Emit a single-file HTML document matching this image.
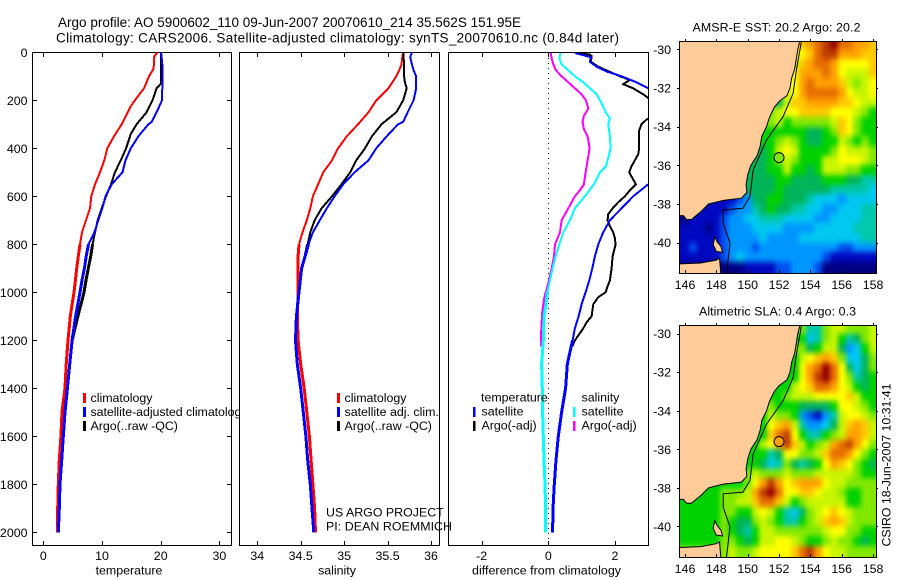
<!DOCTYPE html>
<html>
<head>
<meta charset="utf-8">
<title>Argo profile</title>
<style>
html,body{margin:0;padding:0;background:#fff;}
svg{display:block;font-family:"Liberation Sans",sans-serif;font-size:12.4px;fill:#000;}
.frame{fill:#fff;stroke:#000;stroke-width:1;shape-rendering:crispEdges;}
.tick{stroke:#000;stroke-width:1;shape-rendering:crispEdges;}
</style>
</head>
<body>
<svg id="chart" xmlns="http://www.w3.org/2000/svg" width="900" height="580" viewBox="0 0 900 580">
  <defs>
    <clipPath id="clip-p3"><rect x="449" y="53" width="199" height="492"/></clipPath>
    <clipPath id="clip-leg"><rect x="80" y="380" width="160" height="60"/></clipPath>
    <clipPath id="clip-m1"><rect x="680" y="42" width="196" height="231"/></clipPath>
    <clipPath id="clip-m2"><rect x="680" y="326" width="196" height="231"/></clipPath>
    <filter id="cell-smooth" filterUnits="userSpaceOnUse" x="640" y="0" width="260" height="580" color-interpolation-filters="sRGB">
      <feGaussianBlur stdDeviation="2.4 3"/>
    </filter>
  </defs>
  <text x="58" y="27" font-size="13.5" textLength="463" lengthAdjust="spacing">Argo profile: AO 5900602_110 09-Jun-2007 20070610_214 35.562S 151.95E</text>
  <text x="56" y="42.5" font-size="13.5" textLength="563" lengthAdjust="spacing">Climatology: CARS2006. Satellite-adjusted climatology: synTS_20070610.nc (0.84d later)</text>

  <rect class="frame" x="32.5" y="52.5" width="199" height="493"/>
  <rect class="frame" x="239.5" y="52.5" width="200" height="493"/>
  <rect class="frame" x="448.5" y="52.5" width="200" height="493"/>

  <g id="axes"></g>
  <g id="lines-temp"></g>
  <g id="lines-sal"></g>
  <line x1="548.5" y1="53" x2="548.5" y2="545" stroke="#000" stroke-width="1" stroke-dasharray="1 4" shape-rendering="crispEdges"/>
  <g id="lines-diff" clip-path="url(#clip-p3)"></g>

  <text x="129" y="574.5" text-anchor="middle">temperature</text>
  <text x="337" y="574.5" text-anchor="middle">salinity</text>
  <text x="546.5" y="574.5" text-anchor="middle" textLength="149" lengthAdjust="spacing">difference from climatology</text>

  <g clip-path="url(#clip-leg)">
    <rect x="83" y="393" width="3" height="10" fill="#f00"/>
    <rect x="83" y="407" width="3" height="10" fill="#00f"/>
    <rect x="83" y="421" width="3" height="10" fill="#000"/>
    <text x="90.5" y="402">climatology</text>
    <text x="90.5" y="416" textLength="157" lengthAdjust="spacing">satellite-adjusted climatology</text>
    <text x="90.5" y="430">Argo(..raw -QC)</text>
  </g>
  <g>
    <rect x="337" y="393" width="3" height="10" fill="#f00"/>
    <rect x="337" y="407" width="3" height="10" fill="#00f"/>
    <rect x="337" y="421" width="3" height="10" fill="#000"/>
    <text x="344.5" y="402">climatology</text>
    <text x="344.5" y="416">satellite adj. clim.</text>
    <text x="344.5" y="430">Argo(..raw -QC)</text>
  </g>
  <text x="326" y="516.5">US ARGO PROJECT</text>
  <text x="326" y="530.5" textLength="126" lengthAdjust="spacing">PI: DEAN ROEMMICH</text>
  <g>
    <text x="481" y="401.5">temperature</text>
    <text x="581.5" y="401.5">salinity</text>
    <rect x="473" y="407" width="2.5" height="10" fill="#00f"/>
    <rect x="473" y="421" width="2.5" height="10" fill="#000"/>
    <rect x="573" y="407" width="2.5" height="10" fill="#0ff"/>
    <rect x="573" y="421" width="2.5" height="10" fill="#f0f"/>
    <text x="481.5" y="415.5">satellite</text>
    <text x="481.5" y="429.5">Argo(-adj)</text>
    <text x="581.5" y="415.5">satellite</text>
    <text x="581.5" y="429.5">Argo(-adj)</text>
  </g>

  <text x="692.5" y="31.5" textLength="168" lengthAdjust="spacing">AMSR-E SST: 20.2 Argo: 20.2</text>
  <g id="map-sst"></g>
  <text x="699" y="315.5" textLength="157" lengthAdjust="spacing">Altimetric SLA: 0.4 Argo: 0.3</text>
  <g id="map-sla"></g>
  <text transform="translate(890.5,546.5) rotate(-90)" textLength="163" lengthAdjust="spacing">CSIRO 18-Jun-2007 10:31:41</text>
</svg>
<script>
// ---- profile data ----
const pressureTicks = [0,200,400,600,800,1000,1200,1400,1600,1800,2000];
const tempTicks = [0,10,20,30];
const salTicks = [34,34.5,35,35.5,36];
const salTickLabels = ['34','34.5','35','35.5','36'];
const diffTicks = [-2,0,2];

const tempClimDepth = [0,20,50,70,100,150,200,225,300,350,400,450,500,550,600,650,700,750,800,850,900,950,1000,1100,1200,1300,1400,1500,1600,1700,1800,1900,2000];
const tempClim = [19.42,18.86,18.86,18.74,18.0,17.16,15.6,14.9,13.35,12.04,10.9,10.4,9.66,8.8,8.18,7.96,7.27,6.6,6.25,5.96,5.69,5.46,5.23,4.6,4.2,3.9,3.7,3.19,3.0,2.73,2.56,2.45,2.4];
const tempArgoDepth = [0,130,150,200,250,300,340,400,450,500,550,600,650,700,750,800,850,900,950,1000,1100,1200,1300,1400,1500,1600,1700,1800,1900,2000];
const tempArgo = [20.05,20.05,19.3,18.6,17.6,15.9,14.9,14.1,13.2,12.2,11.55,10.68,9.95,9.26,8.8,8.4,8.07,7.67,7.27,6.93,5.9,4.9,4.5,4.1,3.7,3.4,3.13,2.85,2.73,2.56];
const tempSatDepth = [0,20,50,100,150,200,210,250,290,300,350,400,450,500,550,600,650,700,750,800,850,900,950,1000,1100,1200,1300,1400,1500,1600,1700,1800,1900,2000];
const tempSat = [20.05,20.16,20.27,20.27,20.27,20.2,20.05,19.3,18.46,17.9,16.2,14.9,14.0,13.5,11.65,10.6,10.05,9.37,8.7,7.7,7.3,7.0,6.6,6.25,5.5,4.9,4.5,4.1,3.7,3.4,3.13,2.85,2.73,2.56];

const salClimDepth = [0,20,50,70,100,150,200,250,300,350,400,450,500,550,600,650,700,750,800,850,900,1000,1100,1200,1300,1400,1500,1600,1700,1800,1900,2000];
const salClim = [35.68,35.67,35.66,35.64,35.6,35.51,35.37,35.28,35.16,35.03,34.93,34.86,34.76,34.70,34.64,34.61,34.57,34.52,34.48,34.47,34.47,34.47,34.46,34.47,34.5,34.54,34.57,34.6,34.62,34.64,34.66,34.67];
const salArgoDepth = [0,50,100,125,150,200,250,300,350,400,450,500,550,600,650,700,750,800,850,900,1000,1100,1200,1300,1400,1500,1600,1700,1800,1900,2000];
const salArgo = [35.68,35.69,35.69,35.70,35.72,35.68,35.60,35.43,35.32,35.24,35.14,35.07,34.97,34.86,34.74,34.66,34.61,34.58,34.55,34.51,34.48,34.45,34.44,34.46,34.50,34.53,34.56,34.58,34.61,34.63,34.65];
const salSatDepth = [0,20,50,75,100,150,200,250,290,300,350,400,450,500,550,600,650,700,750,800,850,900,1000,1100,1200,1300,1400,1500,1600,1700,1800,1900,2000];
const salSat = [35.78,35.76,35.78,35.8,35.83,35.83,35.8,35.73,35.68,35.62,35.49,35.37,35.28,35.12,34.99,34.89,34.8,34.72,34.64,34.59,34.55,34.51,34.48,34.45,34.44,34.46,34.50,34.53,34.56,34.58,34.61,34.63,34.65];

const diffTempArgoDepth = [0,10,15,40,60,100,115,133,150,175,190,200,250,280,300,325,350,400,425,475,500,525,550,575,600,625,650,675,700,725,750,775,800,850,900,950,975,1000,1020,1050,1100,1125,1150,1200,1225];
const diffTempArgo = [0.85,1.25,1.3,1.28,1.5,2.15,2.45,2.25,2.55,2.85,3.0,3.2,3.5,2.95,2.8,2.73,2.72,2.73,2.7,2.5,2.43,2.53,2.63,2.45,2.3,2.1,1.93,1.8,1.78,1.85,1.95,2.0,2.02,1.93,1.9,1.85,1.78,1.72,1.5,1.35,1.3,1.15,1.05,0.8,0.72];
const diffTempSatDepth = [0,5,20,40,60,80,100,125,150,200,300,400,500,550,600,650,700,750,800,850,900,950,1000,1050,1100,1150,1200,1250,1300,1400,1500,1600,1700,1800,1900,2000];
const diffTempSat = [0.8,0.85,1.27,1.25,1.45,1.75,2.2,2.65,3.0,4.6,4.55,4.0,3.6,3.0,2.55,2.2,1.85,1.65,1.5,1.4,1.32,1.23,1.12,1.0,0.91,0.8,0.73,0.65,0.57,0.52,0.4,0.3,0.23,0.18,0.14,0.13];
const diffSalArgoDepth = [0,25,50,75,100,125,150,175,200,235,265,290,320,350,400,450,500,550,575,600,650,700,750,800,850,900,950,1000,1033,1089,1171,1225];
const diffSalArgo = [0.07,0.10,0.15,0.23,0.40,0.6,0.8,1.0,1.13,1.2,1.07,1.03,1.07,1.18,1.24,1.18,1.12,1.07,0.95,0.80,0.6,0.40,0.35,0.2,0.17,0.1,0.02,-0.07,-0.12,-0.17,-0.2,-0.21];
const diffSalSatDepth = [0,25,50,75,100,125,150,175,200,225,250,275,300,350,400,450,475,500,550,600,650,700,750,800,850,900,950,1000,1050,1100,1200,1300,1400,1500,1600,1700,1800,1900,2000];
const diffSalSat = [0.37,0.33,0.4,0.6,0.8,1.05,1.25,1.45,1.55,1.65,1.72,1.85,1.8,1.85,1.87,1.78,1.73,1.55,1.37,1.1,0.8,0.65,0.45,0.33,0.22,0.13,0.05,-0.03,-0.07,-0.13,-0.15,-0.2,-0.18,-0.17,-0.15,-0.13,-0.1,-0.08,-0.09];

// ---- map data: colour level per half-degree cell, null where land ----
const _ = null;
const mapLons = [146,146.5,147,147.5,148,148.5,149,149.5,150,150.5,151,151.5,152,152.5,153,153.5,154,154.5,155,155.5,156,156.5,157,157.5,158];
const mapLats = [-29.75,-30.25,-30.75,-31.25,-31.75,-32.25,-32.75,-33.25,-33.75,-34.25,-34.75,-35.25,-35.75,-36.25,-36.75,-37.25,-37.75,-38.25,-38.75,-39.25,-39.75,-40.25,-40.75,-41.25];
const sstLevels = [
[_,_,_,_,_,_,_,_,_,_,_,_,_,_,_,11,12,13,14,15,13,13,12,12,11],
[_,_,_,_,_,_,_,_,_,_,_,_,_,_,_,10,11,13,14,14,12,12,12,11,11],
[_,_,_,_,_,_,_,_,_,_,_,_,_,_,9,11,12,13,13,12,10,10,10,10,11],
[_,_,_,_,_,_,_,_,_,_,_,_,_,_,10,12,12,12,13,12,10,9,9,9,11],
[_,_,_,_,_,_,_,_,_,_,_,_,_,_,10,12,13,12,12,12,11,9,8,9,10],
[_,_,_,_,_,_,_,_,_,_,_,_,_,9,10,12,13,13,13,13,12,10,9,9,10],
[_,_,_,_,_,_,_,_,_,_,_,_,6,9,11,11,12,12,12,12,11,11,10,9,9],
[_,_,_,_,_,_,_,_,_,_,_,8,9,10,10,11,11,11,11,10,10,10,9,8,7],
[_,_,_,_,_,_,_,_,_,_,_,8,9,7,8,8,8,8,8,9,11,10,8,7,7],
[_,_,_,_,_,_,_,_,_,_,7,7,7,7,7,7,6,6,7,8,11,10,8,7,7],
[_,_,_,_,_,_,_,_,_,_,7,7,8,9,8,7,6,6,7,7,9,8,7,8,7],
[_,_,_,_,_,_,_,_,_,_,6,7,9,10,9,7,7,7,7,8,10,9,9,9,8],
[_,_,_,_,_,_,_,_,_,6,6,7,8,9,8,7,7,7,9,9,10,10,10,9,8],
[_,_,_,_,_,_,_,_,_,6,6,7,7,9,7,7,6,7,9,9,9,8,8,7,7],
[_,_,_,_,_,_,_,_,6,6,6,6,7,7,6,6,6,6,7,7,7,6,6,5,5],
[_,_,_,_,_,_,_,_,6,6,6,6,7,6,6,6,6,6,6,5,5,5,5,5,4],
[_,_,_,_,_,1,1,2,3,6,6,7,7,6,6,6,5,4,4,4,3,4,4,4,4],
[_,_,1,1,1,1,2,3,3,5,6,7,6,6,5,5,4,4,3,3,4,4,4,5,5],
[0,1,1,1,1,2,3,3,4,4,5,5,5,4,4,4,4,3,3,4,4,4,4,5,5],
[1,1,1,0,1,2,3,3,3,4,4,4,4,3,3,3,3,4,4,4,4,4,5,5,5],
[1,1,1,1,1,2,3,3,3,3,4,3,3,3,3,4,4,4,4,4,4,4,4,5,5],
[1,2,1,1,1,2,3,3,3,2,3,3,3,3,3,3,3,3,3,3,2,2,3,3,3],
[1,1,1,1,1,2,3,4,3,3,3,3,3,3,3,3,3,3,2,1,1,1,1,1,1],
[_,_,_,_,_,0,0,0,1,1,1,1,2,2,3,3,3,2,0,0,0,0,0,0,0]
];
const slaLevels = [
[_,_,_,_,_,_,_,_,_,_,_,_,_,_,_,8,5,5,8,9,9,8,8,8,9],
[_,_,_,_,_,_,_,_,_,_,_,_,_,_,_,7,4,5,8,9,7,5,6,8,9],
[_,_,_,_,_,_,_,_,_,_,_,_,_,_,_,8,6,7,9,9,6,3,4,7,9],
[_,_,_,_,_,_,_,_,_,_,_,_,_,_,7,9,10,11,12,11,8,4,4,6,8],
[_,_,_,_,_,_,_,_,_,_,_,_,_,_,7,10,12,13,15,13,10,6,4,6,8],
[_,_,_,_,_,_,_,_,_,_,_,_,_,_,7,10,12,14,15,13,10,8,5,6,7],
[_,_,_,_,_,_,_,_,_,_,_,_,_,7,9,10,11,13,13,12,10,9,7,6,7],
[_,_,_,_,_,_,_,_,_,_,_,7,7,8,9,9,9,10,10,10,10,11,9,7,7],
[_,_,_,_,_,_,_,_,_,_,_,8,7,7,7,6,6,6,6,7,10,10,9,8,7],
[_,_,_,_,_,_,_,_,_,_,7,9,8,8,7,3,2,1,3,5,9,10,10,9,8],
[_,_,_,_,_,_,_,_,_,_,7,10,11,12,9,5,3,3,4,6,9,11,12,11,9],
[_,_,_,_,_,_,_,_,_,_,7,11,13,14,10,7,5,5,7,8,9,12,12,11,9],
[_,_,_,_,_,_,_,_,_,7,9,10,12,14,11,9,7,8,9,12,13,14,12,10,8],
[_,_,_,_,_,_,_,_,_,7,7,5,6,10,10,8,8,9,11,13,13,12,10,8,7],
[_,_,_,_,_,_,_,_,7,7,6,4,5,8,6,5,6,7,10,12,11,10,8,7,6],
[_,_,_,_,_,_,_,_,8,9,8,8,8,9,8,8,8,9,9,9,9,9,8,7,7],
[_,_,_,_,_,7,7,7,8,10,12,14,12,10,11,12,12,12,10,9,9,8,8,8,8],
[_,_,7,7,7,8,8,8,9,12,14,15,13,10,10,11,11,10,9,9,8,7,7,8,8],
[7,7,7,7,7,8,8,9,9,11,13,13,11,9,7,8,9,9,9,9,9,7,7,8,8],
[7,7,7,7,7,8,8,7,7,9,10,9,7,5,4,6,8,9,10,11,10,9,8,8,8],
[7,7,7,7,7,8,7,6,6,8,9,8,7,5,5,7,8,9,11,12,11,9,8,8,8],
[7,7,7,7,7,8,7,6,5,7,9,9,8,8,8,8,8,8,9,10,10,8,8,7,7],
[7,7,7,7,7,8,8,7,6,7,9,9,10,10,9,8,7,7,8,9,8,8,7,6,7],
[_,_,_,_,_,8,9,8,8,9,10,10,10,10,11,13,14,12,10,9,9,8,8,8,8]
];
const floatLon = 152;
const floatLat = -35.6;
const sstFloatLevel = 8;
const slaFloatLevel = 12;
const mapLonTicks = [146,148,150,152,154,156,158];
const mapLatTicks = [-30,-32,-34,-36,-38,-40];

// geography (degrees)
const mainlandLon = [145.5,153.35,153.2,153.0,152.8,152.7,152.5,152.0,151.7,151.4,151.2,150.9,150.8,150.6,150.2,150.0,149.9,149.95,149.6,148.5,148.0,147.5,147.0,146.4,146.1,145.9,145.5];
const mainlandLat = [-29.5,-29.5,-30,-31,-31.5,-32,-32.4,-32.7,-33,-33.5,-34,-34.5,-35,-35.5,-36,-36.5,-37,-37.4,-37.7,-37.8,-37.9,-38,-38.4,-38.8,-38.8,-38.6,-38.6];
const tasmaniaLon = [145.5,147,148,148.2,148.3,145.5];
const tasmaniaLat = [-41.1,-41.05,-40.9,-40.8,-41.7,-41.7];
const flindersLon = [147.9,148.05,148.3,148.4,148,147.8];
const flindersLat = [-39.7,-39.95,-40.2,-40.5,-40.45,-40.1];
const shelfLon = [153.43,153.11,152.9,152.26,151.2,150.35,150.14,149.7,148.44,148.44,148.87,148.65];
const shelfLat = [-29.6,-31.07,-32.28,-33.48,-34.69,-36.24,-37.62,-38.22,-38.31,-39,-40.03,-41.6];

// ---- axis functions ----
const NS = 'http://www.w3.org/2000/svg';
const yP = d => 52.3 + 0.24 * d;
const xT = v => 43.3 + 5.87 * v;
const xS = v => 257.3 + 86.85 * (v - 34);
const xD = v => 548.3 + 33.3 * v;
const palette = ['#000082','#0008c0','#0050f0','#0096ff','#00c8f0','#00c8aa','#00b45a','#00d200','#82e800','#c8f500','#ffff00','#ffc800','#ffa000','#e66e00','#be3c00','#960000'];

function drawProfile(parent, name, depths, values, xFn, color, thickFrom) {
  // the steep deep part of each profile renders heavier in the source plot
  const shallow = [];
  const deep = [];
  depths.forEach((d, i) => {
    const p = xFn(values[i]).toFixed(1) + ',' + yP(d).toFixed(1);
    if (d <= thickFrom) shallow.push(p);
    if (d >= thickFrom || (i + 1 < depths.length && depths[i + 1] > thickFrom && d < thickFrom)) deep.push(p);
  });
  const el = document.createElementNS(NS, 'polyline');
  
  
  el.setAttribute('points', shallow.join(' '));
  el.setAttribute('fill', 'none');
  el.setAttribute('stroke', color);
  el.setAttribute('stroke-width', '2');
  el.setAttribute('shape-rendering', 'crispEdges');
  parent.appendChild(el);
  if (deep.length > 1) {
    const elDeep = document.createElementNS(NS, 'polyline');
    
    
    elDeep.setAttribute('points', deep.join(' '));
    elDeep.setAttribute('fill', 'none');
    elDeep.setAttribute('stroke', color);
    elDeep.setAttribute('stroke-width', '3');
    elDeep.setAttribute('shape-rendering', 'crispEdges');
    parent.appendChild(elDeep);
  }
}
function drawTick(parent, x1, y1, x2, y2) {
  const t = document.createElementNS(NS, 'line');
  
  
  t.setAttribute('class', 'tick');
  t.setAttribute('x1', x1);
  t.setAttribute('y1', y1);
  t.setAttribute('x2', x2);
  t.setAttribute('y2', y2);
  parent.appendChild(t);
}
function drawLabel(parent, x, y, str, anchor) {
  const t = document.createElementNS(NS, 'text');
  
  
  t.setAttribute('x', x);
  t.setAttribute('y', y);
  t.setAttribute('text-anchor', anchor);
  t.textContent = str;
  parent.appendChild(t);
}

// profile axes
const axesG = document.getElementById('axes');
pressureTicks.forEach(p => {
  const y = Math.round(yP(p)) + 0.5;
  drawTick(axesG, 33, y, 37, y);
  drawTick(axesG, 231, y, 227, y);
  drawLabel(axesG, 27.5, yP(p) + 4.5, String(p), 'end');
});
tempTicks.forEach(v => {
  const x = Math.round(xT(v)) + 0.5;
  drawTick(axesG, x, 53, x, 57);
  drawTick(axesG, x, 545, x, 541);
  drawLabel(axesG, xT(v), 560, String(v), 'middle');
});
salTicks.forEach((v, i) => {
  const x = Math.round(xS(v)) + 0.5;
  drawTick(axesG, x, 53, x, 57);
  drawTick(axesG, x, 545, x, 541);
  drawLabel(axesG, xS(v), 560, salTickLabels[i], 'middle');
});
diffTicks.forEach(v => {
  const x = Math.round(xD(v)) + 0.5;
  drawTick(axesG, x, 53, x, 57);
  drawTick(axesG, x, 545, x, 541);
  drawLabel(axesG, xD(v), 560, String(v), 'middle');
});

// profile lines
const lt = document.getElementById('lines-temp');
drawProfile(lt, 'temperature-climatology-line', tempClimDepth, tempClim, xT, '#f00', 800);
drawProfile(lt, 'temperature-argo-line', tempArgoDepth, tempArgo, xT, '#000', 800);
drawProfile(lt, 'temperature-satellite-line', tempSatDepth, tempSat, xT, '#00f', 800);
const ls = document.getElementById('lines-sal');
drawProfile(ls, 'salinity-climatology-line', salClimDepth, salClim, xS, '#f00', 800);
drawProfile(ls, 'salinity-argo-line', salArgoDepth, salArgo, xS, '#000', 800);
drawProfile(ls, 'salinity-satellite-line', salSatDepth, salSat, xS, '#00f', 800);
const ld = document.getElementById('lines-diff');
drawProfile(ld, 'diff-temp-argo-line', diffTempArgoDepth, diffTempArgo, xD, '#000', 1300);
drawProfile(ld, 'diff-temp-satellite-line', diffTempSatDepth, diffTempSat, xD, '#00f', 1200);
drawProfile(ld, 'diff-salinity-argo-line', diffSalArgoDepth, diffSalArgo, xD, '#f0f', 1000);
drawProfile(ld, 'diff-salinity-satellite-line', diffSalSatDepth, diffSalSat, xD, '#0ff', 1000);

// maps
function nearestInRow(row, c) {
  for (let d = 1; d < row.length; d++) {
    if (c + d < row.length && row[c + d] !== null) return row[c + d];
    if (c - d >= 0 && row[c - d] !== null) return row[c - d];
  }
  return 0;
}
function drawMap(gid, prefix, left, right, top, bottom, lat30y, pxPerLat, clipId, levels, floatLevel) {
  const g = document.getElementById(gid);
  const lonX = lon => 685 + (lon - 146) * 15.67;
  const latY = lat => lat30y + (-30 - lat) * pxPerLat;
  const inner = document.createElementNS(NS, 'g');
  
  
  inner.setAttribute('clip-path', 'url(#' + clipId + ')');
  g.appendChild(inner);
  const cells = document.createElementNS(NS, 'g');
  
  
  cells.setAttribute('filter', 'url(#cell-smooth)');
  inner.appendChild(cells);
  mapLats.forEach((lat, r) => {
    mapLons.forEach((lon, c) => {
      const raw = levels[r][c];
      const level = raw === null ? nearestInRow(levels[r], c) : raw;
      let x0 = Math.round(lonX(lon - 0.25));
      let x1 = Math.round(lonX(lon + 0.25));
      let y0 = Math.round(latY(lat + 0.25));
      let y1 = Math.round(latY(lat - 0.25));
      if (c === 0) x0 -= 16;
      if (c === mapLons.length - 1) x1 += 16;
      if (r === 0) y0 -= 16;
      if (r === mapLats.length - 1) y1 += 16;
      const cell = document.createElementNS(NS, 'rect');
      
      
      cell.setAttribute('x', x0);
      cell.setAttribute('y', y0);
      cell.setAttribute('width', x1 - x0);
      cell.setAttribute('height', y1 - y0);
      cell.setAttribute('fill', palette[level]);
      cell.setAttribute('shape-rendering', 'crispEdges');
      cells.appendChild(cell);
    });
  });
  const landShapes = [['mainland', mainlandLon, mainlandLat], ['tasmania', tasmaniaLon, tasmaniaLat], ['flinders-island', flindersLon, flindersLat]];
  landShapes.forEach(shape => {
    const poly = document.createElementNS(NS, 'polygon');
    
    
    poly.setAttribute('points', shape[1].map((lon, i) => lonX(lon).toFixed(1) + ',' + latY(shape[2][i]).toFixed(1)).join(' '));
    poly.setAttribute('fill', '#ffcc99');
    poly.setAttribute('stroke', '#000');
    poly.setAttribute('stroke-width', '1');
    inner.appendChild(poly);
  });
  const shelf = document.createElementNS(NS, 'polyline');
  
  
  shelf.setAttribute('points', shelfLon.map((lon, i) => lonX(lon).toFixed(1) + ',' + latY(shelfLat[i]).toFixed(1)).join(' '));
  shelf.setAttribute('fill', 'none');
  shelf.setAttribute('stroke', '#000');
  shelf.setAttribute('stroke-width', '1');
  inner.appendChild(shelf);
  const dot = document.createElementNS(NS, 'circle');
  
  
  dot.setAttribute('cx', lonX(floatLon));
  dot.setAttribute('cy', latY(floatLat));
  dot.setAttribute('r', 5);
  dot.setAttribute('fill', palette[floatLevel]);
  dot.setAttribute('stroke', '#000');
  dot.setAttribute('stroke-width', '1');
  inner.appendChild(dot);
  const frame = document.createElementNS(NS, 'rect');
  
  
  frame.setAttribute('x', left + 0.5);
  frame.setAttribute('y', top + 0.5);
  frame.setAttribute('width', right - left);
  frame.setAttribute('height', bottom - top);
  frame.setAttribute('fill', 'none');
  frame.setAttribute('stroke', '#000');
  frame.setAttribute('shape-rendering', 'crispEdges');
  g.appendChild(frame);
  mapLonTicks.forEach(lon => {
    const x = Math.round(lonX(lon)) + 0.5;
    drawTick(g, x, top - 2, x, top);
    drawTick(g, x, bottom, x, bottom - 3);
    drawLabel(g, lonX(lon), bottom + 16, String(lon), 'middle');
  });
  mapLatTicks.forEach(lat => {
    const y = Math.round(latY(lat)) + 0.5;
    drawTick(g, left - 2, y, left, y);
    drawTick(g, right, y, right + 2, y);
    drawLabel(g, 671, latY(lat) + 4.5, String(lat), 'end');
  });
}
drawMap('map-sst', 'sst', 679, 876, 41, 273, 49.3, 19.34, 'clip-m1', sstLevels, sstFloatLevel);
drawMap('map-sla', 'sla', 679, 876, 325, 557, 333.7, 19.27, 'clip-m2', slaLevels, slaFloatLevel);
</script>
</body>
</html>
